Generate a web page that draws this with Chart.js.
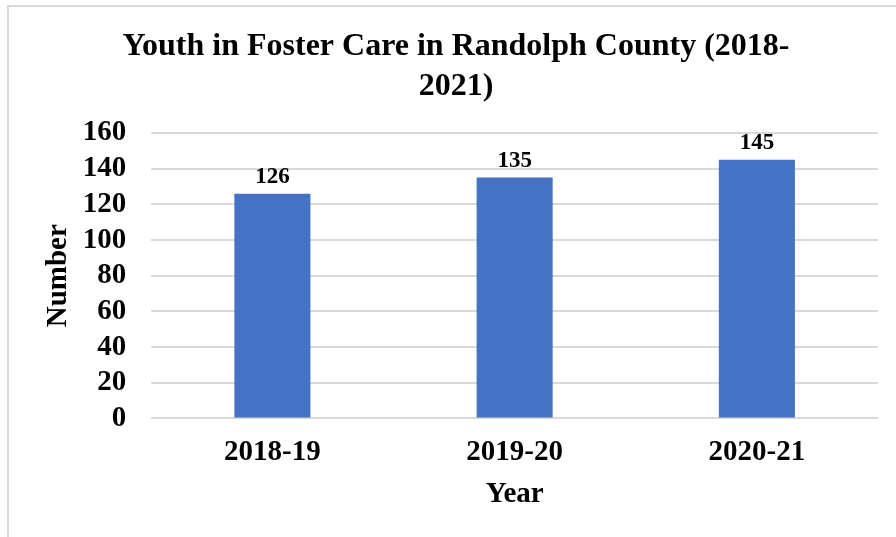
<!DOCTYPE html>
<html lang="en">
<head>
    <meta charset="UTF-8">
    <title>Youth in Foster Care in Randolph County</title>
    <script src="https://cdn.jsdelivr.net/npm/chart.js"></script>
    <style>
        html, body { margin: 0; padding: 0; background: #fff; }
        #wrap { position: relative; width: 896px; height: 537px; }
    </style>
</head>
<body>
    <div id="wrap"><canvas id="myChart"></canvas></div>

    <script>
        // Datos del gráfico
        const years = ['2018-19', '2019-20', '2020-21'];
        const youthCount = [126, 135, 145];
        const yTicks = [0, 20, 40, 60, 80, 100, 120, 140, 160];

        const serif = '"Liberation Serif", "Times New Roman", serif';

        // marco gris claro (borde izquierdo y superior)
        const framePlugin = {
            id: 'frame',
            beforeDraw(chart) {
                const c = chart.ctx;
                c.save();
                c.fillStyle = '#fff';
                c.fillRect(0, 0, chart.width, chart.height);
                c.strokeStyle = '#d9d9d9';
                c.lineWidth = 2;
                c.beginPath();
                c.moveTo(8, chart.height);
                c.lineTo(8, 6);
                c.lineTo(chart.width, 6);
                c.stroke();
                c.restore();
            }
        };

        // etiquetas de valor sobre cada barra
        const valueLabels = {
            id: 'valueLabels',
            afterDatasetsDraw(chart) {
                const c = chart.ctx;
                const meta = chart.getDatasetMeta(0);
                c.save();
                c.font = 'bold 23px ' + serif;
                c.fillStyle = '#000';
                c.textAlign = 'center';
                c.textBaseline = 'alphabetic';
                meta.data.forEach((bar, i) => {
                    c.fillText(String(youthCount[i]), bar.x, bar.y - 11);
                });
                c.restore();
            }
        };

        const ctx = document.getElementById('myChart').getContext('2d');
        new Chart(ctx, {
            type: 'bar',
            data: {
                labels: years,
                datasets: [{
                    label: 'Number',
                    data: youthCount,
                    backgroundColor: '#4472C4',
                    barPercentage: 0.314,
                    categoryPercentage: 1
                }]
            },
            options: {
                responsive: true,
                maintainAspectRatio: false,
                animation: false,
                layout: { padding: { left: 34, right: 18, top: 0, bottom: 0 } },
                plugins: {
                    legend: { display: false },
                    tooltip: { enabled: false },
                    title: {
                        display: true,
                        text: ['Youth in Foster Care in Randolph County (2018-', '2021)'],
                        color: '#000',
                        font: { family: serif, size: 32, weight: 'bold', lineHeight: 1.25 },
                        padding: { top: 27, bottom: 26 }
                    }
                },
                scales: {
                    x: {
                        grid: { display: false, drawTicks: false },
                        border: { display: false },
                        ticks: {
                            color: '#000',
                            padding: 17,
                            font: { family: serif, size: 29, weight: 'bold' }
                        },
                        title: {
                            display: true,
                            text: 'Year',
                            color: '#000',
                            font: { family: serif, size: 29, weight: 'bold' },
                            padding: { top: -10, bottom: 25 }
                        }
                    },
                    y: {
                        min: 0,
                        max: 160,
                        afterBuildTicks(axis) {
                            axis.ticks = yTicks.map(v => ({ value: v }));
                        },
                        grid: { color: '#d9d9d9', lineWidth: 2, drawTicks: false },
                        border: { display: false },
                        ticks: {
                            color: '#000',
                            padding: 25,
                            autoSkip: false,
                            font: { family: serif, size: 29, weight: 'bold' }
                        },
                        title: {
                            display: true,
                            text: 'Number',
                            color: '#000',
                            font: { family: serif, size: 29, weight: 'bold' },
                            padding: { top: 7, bottom: -18 }
                        }
                    }
                }
            },
            plugins: [framePlugin, valueLabels]
        });
    </script>
</body>
</html>
